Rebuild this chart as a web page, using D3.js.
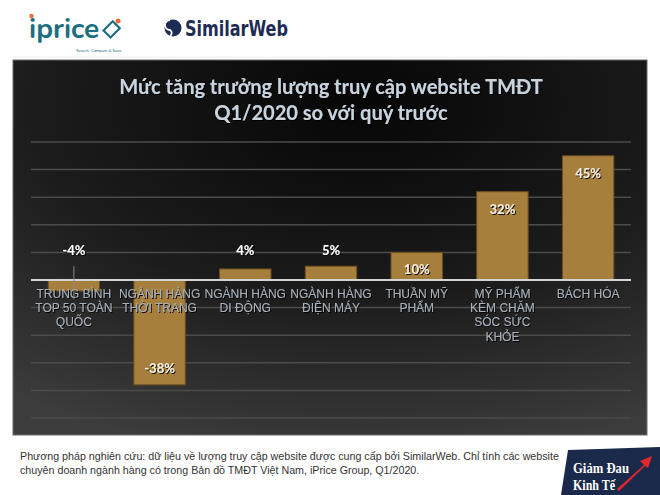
<!DOCTYPE html>
<html lang="vi">
<head>
<meta charset="UTF-8">
<title>Mức tăng trưởng lượng truy cập website TMĐT</title>
<script src="https://cdn.jsdelivr.net/npm/d3@7"></script>
<style>
  body { margin: 0; background: #fff; }
  svg { display: block; }
</style>
</head>
<body>
<script>
    // data
    var categories = [
        ["TRUNG  BÌNH", "TOP 50 TOÀN", "QUỐC"],
        ["NGÀNH HÀNG", "THỜI TRANG"],
        ["NGÀNH HÀNG", "DI ĐỘNG"],
        ["NGÀNH HÀNG", "ĐIỆN MÁY"],
        ["THUẦN MỸ", "PHẨM"],
        ["MỸ PHẨM", "KÈM CHĂM", "SÓC SỨC", "KHỎE"],
        ["BÁCH HÓA"]
    ];
    var values = [-4, -38, 4, 5, 10, 32, 45];
    var gridTicks = [-50, -40, -30, -20, -10, 0, 10, 20, 30, 40, 50];
    var titleLines = ["Mức tăng trưởng lượng truy cập website TMĐT", "Q1/2020 so với quý trước"];
    var noteLines = [
        "Phương pháp nghiên cứu: dữ liệu về lượng truy cập website được cung cấp bởi SimilarWeb. Chỉ tính các website",
        "chuyên doanh ngành hàng có trong Bản đồ TMĐT Việt Nam, iPrice Group, Q1/2020."
    ];

    var width = 660, height = 495;
    var svg = d3.select('body').append('svg')
            .attr('width', width)
            .attr('height', height);

    var defs = svg.append('defs');
    var bg = defs.append('radialGradient')
            .attr('id', 'panelbg')
            .attr('cx', '55%').attr('cy', '12%').attr('r', '95%');
    bg.append('stop').attr('offset', '0%').attr('stop-color', '#060606');
    bg.append('stop').attr('offset', '55%').attr('stop-color', '#1c1c1c');
    bg.append('stop').attr('offset', '100%').attr('stop-color', '#3c3c3c');

    var shadow = defs.append('filter').attr('id', 'shadow')
            .attr('x', '-20%').attr('y', '-20%').attr('width', '140%').attr('height', '140%');
    shadow.append('feDropShadow').attr('dx', 1).attr('dy', 1)
            .attr('stdDeviation', 0.6).attr('flood-color', '#000').attr('flood-opacity', 0.9);

    // ---- header logos ----
    var head = svg.append('g');
    head.append('line').attr('x1', 13).attr('x2', 648).attr('y1', 57).attr('y2', 57)
            .attr('stroke', '#eeeeee');
    head.append('text').attr('x', 29).attr('y', 38)
            .attr('font-family', 'Nunito, Lato, sans-serif').attr('font-weight', 700)
            .attr('font-size', 28).attr('fill', '#1c6f82').text('iprice');
    head.append('circle').attr('cx', 31.5).attr('cy', 16).attr('r', 2.2).attr('fill', '#f26b3a');
    head.append('rect').attr('x', 107).attr('y', 23).attr('width', 10).attr('height', 13)
            .attr('transform', 'rotate(45,112,29)')
            .attr('fill', 'none').attr('stroke', '#1c6f82').attr('stroke-width', 2.2);
    head.append('circle').attr('cx', 118).attr('cy', 21).attr('r', 2.5).attr('fill', '#f26b3a');
    head.append('text').attr('x', 76).attr('y', 52)
            .attr('font-family', 'Arial, sans-serif').attr('font-size', 4)
            .attr('fill', '#1c6f82').text('Search, Compare & Save');

    var sw = head.append('g').attr('transform', 'translate(173,28)');
    sw.append('circle').attr('r', 8.5).attr('fill', '#1e2b55');
    sw.append('path').attr('d', 'M0,-8.5 A8.5,8.5 0 0 1 0,8.5 A6,6 0 0 0 0,-8.5 Z')
            .attr('fill', '#f7941e');
    sw.append('path').attr('d', 'M-3,-8 A4.5,4.5 0 0 0 -3,2 A3.5,3.5 0 0 1 -3,8')
            .attr('fill', 'none').attr('stroke', '#fff').attr('stroke-width', 1.8);
    head.append('text').attr('x', 185).attr('y', 36)
            .attr('font-family', '"DejaVu Sans Condensed", Roboto, sans-serif').attr('font-weight', 700)
            .attr('font-size', 21).attr('fill', '#1e2b55')
            .attr('textLength', 103).attr('lengthAdjust', 'spacingAndGlyphs')
            .text('SimilarWeb');

    // ---- dark panel ----
    svg.append('rect').attr('x', 13).attr('y', 60).attr('width', 634).attr('height', 375)
            .attr('fill', 'url(#panelbg)').attr('stroke', '#6a6a6a').attr('stroke-width', 1);

    svg.selectAll('text.title').data(titleLines).enter().append('text')
            .attr('class', 'title')
            .attr('x', 331).attr('y', function (d, i) { return 94 + i * 26; })
            .attr('text-anchor', 'middle')
            .attr('font-family', 'Lato, sans-serif').attr('font-weight', 700)
            .attr('font-size', 20).attr('fill', '#c9d3de')
            .attr('filter', 'url(#shadow)')
            .text(function (d) { return d; });

    var x = d3.scaleBand()
            .domain(d3.range(categories.length))
            .range([31, 631])
            .paddingInner(0.4).paddingOuter(0.2);
    var y = d3.scaleLinear().domain([-50, 50]).range([418, 142]);

    // gridlines
    svg.append('g').selectAll('line').data(gridTicks.filter(function (t) { return t !== 0; }))
            .enter().append('line')
            .attr('x1', 31).attr('x2', 631)
            .attr('y1', function (d) { return y(d); }).attr('y2', function (d) { return y(d); })
            .attr('stroke', '#4b4b4b').attr('stroke-width', 1.5);

    // bars
    svg.append('g').selectAll('rect').data(values).enter().append('rect')
            .attr('x', function (d, i) { return x(i); })
            .attr('width', x.bandwidth())
            .attr('y', function (d) { return y(Math.max(d, 0)); })
            .attr('height', function (d) { return Math.abs(y(d) - y(0)); })
            .attr('fill', '#a67f3c')
            .attr('stroke', '#6b4e1f').attr('stroke-width', 1);

    // zero line
    svg.append('line').attr('x1', 31).attr('x2', 631).attr('y1', y(0)).attr('y2', y(0))
            .attr('stroke', '#d4d4d4').attr('stroke-width', 2);

    // category labels
    var cat = svg.append('g').selectAll('text').data(categories).enter().append('text')
            .attr('x', function (d, i) { return x(i) + x.bandwidth() / 2; })
            .attr('y', y(0) + 18)
            .attr('text-anchor', 'middle')
            .attr('font-family', '"Liberation Sans", Arial, sans-serif')
            .attr('font-size', 12).attr('fill', '#a7b0ba')
            .attr('filter', 'url(#shadow)');
    cat.selectAll('tspan').data(function (d) { return d; }).enter().append('tspan')
            .attr('x', function () { return d3.select(this.parentNode).attr('x'); })
            .attr('dy', function (d, i) { return i === 0 ? 0 : 14.2; })
            .text(function (d) { return d; });

    // value labels: small bars get the label above, bigger ones inside the end
    var small = function (v) { return Math.abs(v) < 8; };
    svg.append('g').selectAll('line').data(values.filter(small).filter(function (v) { return v < 0; }))
            .enter().append('line')
            .attr('x1', x(values.indexOf(-4)) + x.bandwidth() / 2)
            .attr('x2', x(values.indexOf(-4)) + x.bandwidth() / 2)
            .attr('y1', y(5)).attr('y2', y(-7))
            .attr('stroke', '#8a8a8a').attr('stroke-width', 1);

    svg.append('g').selectAll('text').data(values).enter().append('text')
            .attr('x', function (d, i) { return x(i) + x.bandwidth() / 2; })
            .attr('y', function (d) {
                if (small(d)) return y(9.2);
                return d > 0 ? y(d) + 22 : y(d) - 12;
            })
            .attr('text-anchor', 'middle')
            .attr('font-family', 'Lato, sans-serif').attr('font-weight', 700)
            .attr('font-size', 13)
            .attr('fill', function (d) { return small(d) ? '#ffffff' : '#f6eddb'; })
            .attr('filter', 'url(#shadow)')
            .text(function (d) { return d + '%'; });

    // ---- footnote ----
    svg.selectAll('text.note').data(noteLines).enter().append('text')
            .attr('class', 'note')
            .attr('x', 20).attr('y', function (d, i) { return 460 + i * 14; })
            .attr('font-family', '"Liberation Sans", Arial, sans-serif')
            .attr('font-size', 10.7).attr('fill', '#333')
            .text(function (d) { return d; });

    // corner badge
    var badge = svg.append('g');
    badge.append('path').attr('d', 'M568,450 L660,447 L660,495 L561,495 Z').attr('fill', '#1b2a4a');
    badge.append('text').attr('x', 573).attr('y', 473)
            .attr('font-family', '"Liberation Serif", serif').attr('font-weight', 700)
            .attr('font-size', 14.5).attr('fill', '#fff')
            .attr('textLength', 56).attr('lengthAdjust', 'spacingAndGlyphs').text('Giảm Đau');
    badge.append('text').attr('x', 573).attr('y', 490)
            .attr('font-family', '"Liberation Serif", serif').attr('font-weight', 700)
            .attr('font-size', 14.5).attr('fill', '#fff')
            .attr('textLength', 42).attr('lengthAdjust', 'spacingAndGlyphs').text('Kinh Tế');
    badge.append('path').attr('d', 'M617,489 L644,465 L640,461 L652,456 L648,468 L645,466 L619,491 Z')
            .attr('fill', '#e0282e');
</script>
</body>
</html>
